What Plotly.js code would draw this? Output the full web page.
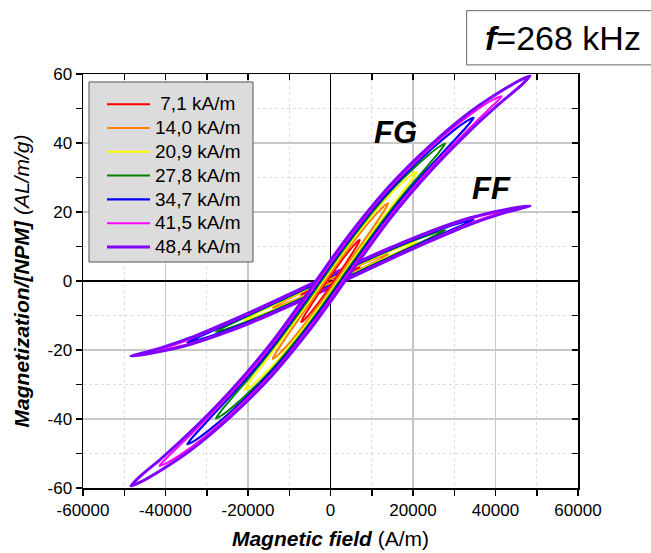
<!DOCTYPE html>
<html>
<head>
<meta charset="utf-8">
<script src="https://cdn.plot.ly/plotly-3.0.1.min.js"></script>
<style>html,body{margin:0;padding:0;background:#fff;}#chart{width:651px;height:553px;}</style>
</head>
<body>
<div id="chart"></div>
<script>
// Field amplitudes (legend labels) and colours
const amplitudes = ["\u00a07,1 kA/m", "14,0 kA/m", "20,9 kA/m", "27,8 kA/m", "34,7 kA/m", "41,5 kA/m", "48,4 kA/m"];
const colors = ["#ff0000", "#ff8000", "#ffff00", "#008000", "#0000ff", "#ff00ff", "#8000ff"];
const widths = [2, 2, 2, 2, 2.2, 2, 3];

// Upper (descending-field) branch of each loop, H in kA/m, M in Am2/kg.
// The lower branch is the point reflection (-H, -M) of the upper branch.
const H_71  = [7.1, 6.75, 6.0, 5.0, 3.55, 2.1, 0.7, 0, -0.7, -2.1, -3.55, -5.0, -6.0, -6.75, -7.1];
const H_140 = [14.0, 13.3, 11.9, 9.8, 7.0, 4.2, 1.4, 0, -1.4, -4.2, -7.0, -9.8, -11.9, -13.3, -14.0];
const H_209 = [20.9, 19.9, 17.8, 14.6, 10.45, 6.3, 2.1, 0, -2.1, -6.3, -10.45, -14.6, -17.8, -19.9, -20.9];
const H_278 = [27.8, 26.4, 23.6, 19.5, 13.9, 8.3, 2.8, 0, -2.8, -8.3, -13.9, -19.5, -23.6, -26.4, -27.8];
const H_347 = [34.7, 33.0, 29.5, 24.3, 17.35, 10.4, 3.5, 0, -3.5, -10.4, -17.35, -24.3, -29.5, -33.0, -34.7];
const H_415 = [41.5, 39.4, 35.3, 29.1, 20.8, 12.5, 4.2, 0, -4.2, -12.5, -20.8, -29.1, -35.3, -39.4, -41.5];
const H_484 = [48.4, 46.0, 41.1, 33.9, 24.2, 14.5, 4.8, 0, -4.8, -14.5, -24.2, -33.9, -41.1, -46.0, -48.4];

// FG sample
const FG_M_71  = [11.86, 11.68, 10.8, 9.46, 7.27, 4.94, 2.58, 1.38, 0.17, -2.27, -4.85, -7.49, -9.4, -10.92, -11.86];
const FG_M_140 = [22.52, 22.06, 20.48, 17.69, 13.57, 9.24, 4.64, 2.24, -0.17, -5.04, -9.83, -14.61, -18.29, -20.91, -22.52];
const FG_M_209 = [31.62, 31.05, 28.95, 25.25, 19.65, 13.38, 6.65, 3.1, -0.52, -7.74, -14.63, -21.41, -26.39, -29.68, -31.62];
const FG_M_278 = [39.84, 38.99, 36.37, 31.93, 25.16, 17.15, 8.5, 3.78, -1.03, -10.37, -19.42, -27.75, -33.46, -37.46, -39.84];
const FG_M_347 = [47.29, 46.33, 43.3, 38.05, 30.1, 20.92, 10.26, 4.47, -1.55, -13.11, -24.01, -33.41, -40.14, -44.7, -47.29];
const FG_M_415 = [53.56, 52.55, 49.47, 43.76, 34.8, 24.54, 12.02, 5.14, -2.06, -15.84, -28.07, -38.75, -46.2, -50.92, -53.56];
const FG_M_484 = [59.4, 58.24, 54.85, 49.07, 39.33, 27.81, 13.78, 5.98, -2.24, -18.17, -31.8, -43.67, -51.54, -56.46, -59.4];

// FF sample
const FF_M_71  = [3.98, 3.91, 3.61, 3.14, 2.39, 1.61, 0.84, 0.45, 0.06, -0.74, -1.58, -2.46, -3.11, -3.65, -3.98];
const FF_M_140 = [7.76, 7.58, 6.98, 5.98, 4.52, 3.0, 1.46, 0.67, -0.11, -1.7, -3.32, -4.98, -6.27, -7.19, -7.76];
const FF_M_209 = [11.35, 11.09, 10.21, 8.72, 6.62, 4.4, 2.07, 0.9, -0.28, -2.66, -5.05, -7.44, -9.3, -10.6, -11.35];
const FF_M_278 = [14.74, 14.36, 13.25, 11.4, 8.66, 5.73, 2.69, 1.12, -0.45, -3.56, -6.73, -9.86, -12.15, -13.78, -14.74];
const FF_M_347 = [17.77, 17.36, 16.14, 13.93, 10.65, 7.07, 3.3, 1.34, -0.62, -4.52, -8.4, -12.15, -14.93, -16.76, -17.77];
const FF_M_415 = [20.02, 19.67, 18.53, 16.3, 12.56, 8.41, 3.92, 1.57, -0.78, -5.48, -10.01, -14.36, -17.38, -19.11, -20.02];
const FF_M_484 = [21.75, 21.43, 20.4, 18.34, 14.4, 9.65, 4.48, 1.79, -0.9, -6.36, -11.56, -16.43, -19.38, -21.01, -21.75];

// Tick labels
const xTickVals = [-60000, -40000, -20000, 0, 20000, 40000, 60000];
const xTickText = ["-60000", "-40000", "-20000", "0", "20000", "40000", "60000"];
const yTickVals = [-60, -40, -20, 0, 20, 40, 60];
const yTickText = ["-60", "-40", "-20", "0", "20", "40", "60"];

const Hs = [H_71, H_140, H_209, H_278, H_347, H_415, H_484];
const FG = [FG_M_71, FG_M_140, FG_M_209, FG_M_278, FG_M_347, FG_M_415, FG_M_484];
const FF = [FF_M_71, FF_M_140, FF_M_209, FF_M_278, FF_M_347, FF_M_415, FF_M_484];

function loop(Hk, Mk) {
  const x = Hk.map(h => h * 1000).concat(Hk.slice(1).map(h => -h * 1000));
  const y = Mk.slice().concat(Mk.slice(1).map(m => -m));
  return {x, y};
}

const traces = [];
for (let i = 0; i < 7; i++) {
  const p = loop(Hs[i], FF[i]);
  traces.push({x: p.x, y: p.y, type: 'scatter', mode: 'lines', name: amplitudes[i], showlegend: false,
    line: {color: colors[i], width: widths[i], shape: 'spline', smoothing: 0.8}, hoverinfo: 'skip'});
}
for (let i = 0; i < 7; i++) {
  const p = loop(Hs[i], FG[i]);
  traces.push({x: p.x, y: p.y, type: 'scatter', mode: 'lines',
    name: '<span style="font-size:19px">' + amplitudes[i] + '</span>', showlegend: true,
    line: {color: colors[i], width: widths[i], shape: 'spline', smoothing: 0.8}, hoverinfo: 'skip'});
}
traces.push({x: [], y: [], xaxis: 'x2', yaxis: 'y2', showlegend: false, type: 'scatter'});

const FONT = 'Arial, "Liberation Sans", sans-serif';

const layout = {
  width: 651, height: 553,
  margin: {l: 83, r: 73, t: 74, b: 65},
  paper_bgcolor: '#ffffff', plot_bgcolor: '#ffffff',
  font: {family: FONT, color: '#000'},
  showlegend: true,
  legend: {x: 0.0384, y: 0.968, xanchor: 'left', yanchor: 'top', bgcolor: 'rgba(0,0,0,0)', borderwidth: 0,
    itemwidth: 43, font: {size: 16, family: FONT}, tracegroupgap: 0},
  xaxis: {
    range: [-60000, 60000], tickmode: 'array', tickvals: xTickVals, ticktext: xTickText,
    ticks: 'outside', ticklen: 6, tickwidth: 1.5, tickcolor: '#000',
    showline: true, linecolor: '#000', linewidth: 1.5, mirror: false,
    showgrid: true, gridcolor: '#c8c8c8', gridwidth: 1.2,
    zeroline: true, zerolinecolor: '#000', zerolinewidth: 1.5,
    tickfont: {size: 17, family: FONT},
    minor: {tickmode: 'linear', tick0: 0, dtick: 10000, ticks: 'outside', ticklen: 6, tickwidth: 1.5, tickcolor: '#000',
      showgrid: true, gridcolor: '#dddddd', griddash: 'dot', gridwidth: 1},
    title: {text: '<b><i>Magnetic field</i></b> (A/m)', font: {size: 21, family: FONT}, standoff: 12}
  },
  yaxis: {
    range: [-60, 60], tickmode: 'array', tickvals: yTickVals, ticktext: yTickText,
    ticks: 'outside', ticklen: 6, tickwidth: 1.5, tickcolor: '#000',
    showline: true, linecolor: '#000', linewidth: 1.5, mirror: false,
    showgrid: true, gridcolor: '#c8c8c8', gridwidth: 1.2,
    zeroline: true, zerolinecolor: '#000', zerolinewidth: 1.5,
    tickfont: {size: 17, family: FONT},
    minor: {tickmode: 'linear', tick0: 0, dtick: 10, ticks: 'outside', ticklen: 6, tickwidth: 1.5, tickcolor: '#000',
      showgrid: true, gridcolor: '#dddddd', griddash: 'dot', gridwidth: 1},
    title: {text: '<b><i>Magnetization/[NPM]</i></b> <i>(AL/m/g)</i>', font: {size: 21, family: FONT}, standoff: 12}
  },
  xaxis2: {overlaying: 'x', side: 'top', anchor: 'y', range: [-60000, 60000], tickmode: 'linear', tick0: 0, dtick: 10000,
    ticks: 'inside', ticklen: 6, tickwidth: 1.5, tickcolor: '#000', showticklabels: false,
    showline: true, linecolor: '#000', linewidth: 1.5, showgrid: false, zeroline: false},
  yaxis2: {overlaying: 'y', side: 'right', anchor: 'x', range: [-60, 60], tickmode: 'linear', tick0: 0, dtick: 10,
    ticks: 'inside', ticklen: 6, tickwidth: 1.5, tickcolor: '#000', showticklabels: false,
    showline: true, linecolor: '#000', linewidth: 1.5, showgrid: false, zeroline: false},
  shapes: [
    {type: 'rect', xref: 'paper', yref: 'paper', x0: 0.775, x1: 1.2, y0: 1.022, y1: 1.153,
      line: {color: '#666666', width: 1}, fillcolor: 'rgba(0,0,0,0)'},
    {type: 'rect', xref: 'paper', yref: 'paper', layer: 'above', x0: 0.0121, x1: 0.3434, y0: 0.5459, y1: 0.9807,
      line: {color: '#555555', width: 1}, fillcolor: '#dcdcdc'}
  ],
  annotations: [
    {xref: 'paper', yref: 'paper', x: 0.808, y: 1.088, xanchor: 'left', yanchor: 'middle', showarrow: false,
      text: '<b><i>f</i></b>=268 kHz', font: {size: 34, family: FONT, color: '#000'}},
    {xref: 'x', yref: 'y', x: 15700, y: 43, showarrow: false, text: '<b><i>FG</i></b>',
      font: {size: 31, family: FONT, color: '#000'}},
    {xref: 'x', yref: 'y', x: 39100, y: 26.7, showarrow: false, text: '<b><i>FF</i></b>',
      font: {size: 31, family: FONT, color: '#000'}}
  ]
};

Plotly.newPlot('chart', traces, layout, {staticPlot: true, displayModeBar: false});
</script>
</body>
</html>
